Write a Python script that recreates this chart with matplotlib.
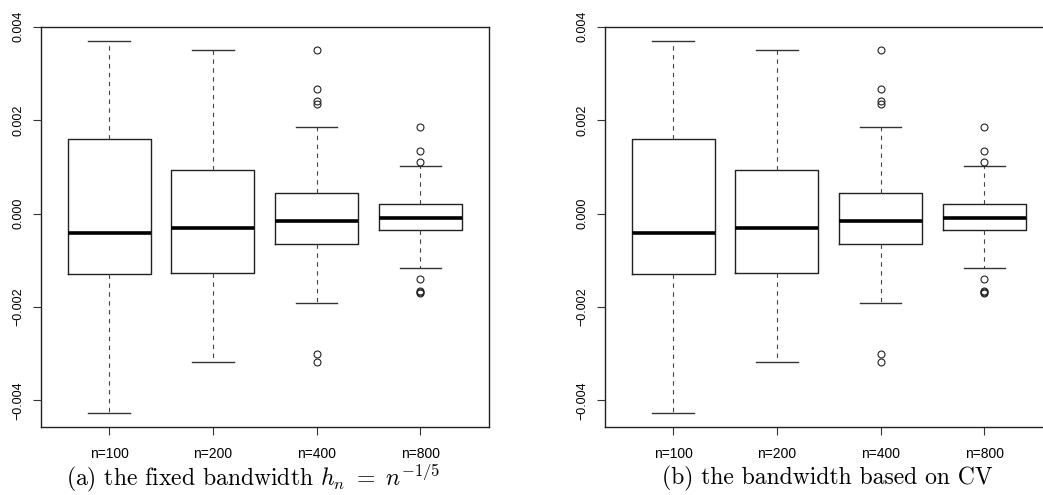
import matplotlib
matplotlib.use("Agg")
import matplotlib.pyplot as plt

# box statistics (same numbers in both panels)
groups = ["n=100", "n=200", "n=400", "n=800"]
whis_lo = [-0.00426, -0.00317, -0.00191, -0.00117]
q1 = [-0.00129, -0.00128, -0.00066, -0.00036]
med = [-0.00042, -0.00031, -0.00016, -0.00010]
q3 = [0.00159, 0.00093, 0.00043, 0.00020]
whis_hi = [0.00369, 0.00351, 0.00186, 0.00102]
fliers = [
    [],
    [],
    [0.00350, 0.00267, 0.00242, 0.00234, -0.00300, -0.00317],
    [0.00186, 0.00134, 0.00111, -0.00139, -0.00165, -0.00168, -0.00171],
]

yticks = [-0.004, -0.002, 0.0, 0.002, 0.004]
yticklabels = ["\u22120.004", "\u22120.002", "0.000", "0.002", "0.004"]

captions = [r"(a) the fixed bandwidth $h_n\ =\ n^{-1/5}$",
            "(b) the bandwidth based on CV"]

plt.rcParams["mathtext.fontset"] = "cm"

stats = []
for i in range(len(groups)):
    stats.append(dict(label=groups[i], whislo=whis_lo[i], q1=q1[i], med=med[i],
                      q3=q3[i], whishi=whis_hi[i], fliers=fliers[i]))

fig = plt.figure(figsize=(10.43, 4.95), dpi=100)
W, H = 1043.0, 495.0
lefts = [40.7, 604.7]
cap_x = [253, 827]

for k in range(2):
    ax = fig.add_axes([lefts[k] / W, (H - 427.3) / H, 448 / W, (427.3 - 26.7) / H])
    ax.bxp(stats, widths=0.8, showfliers=True,
           boxprops=dict(color="#222222", linewidth=1.0),
           medianprops=dict(color="black", linewidth=2.6, solid_capstyle="butt"),
           whiskerprops=dict(color="#444444", linewidth=0.8, linestyle=(0, (4, 4))),
           capprops=dict(color="#333333", linewidth=1.0),
           flierprops=dict(marker="o", markerfacecolor="none", markeredgecolor="#222222",
                           markersize=5, markeredgewidth=0.8))
    ax.set_xlim(0.34, 4.66)
    ax.set_ylim(-0.004574, 0.004)
    ax.set_yticks(yticks)
    ax.set_yticklabels(yticklabels, rotation=90, va="center", family="Liberation Sans", fontsize=9)
    ax.set_xticklabels(groups, family="Liberation Sans", fontsize=10)
    ax.tick_params(axis="both", length=6, width=0.8, color="#333333")
    ax.tick_params(axis="x", pad=8)
    ax.tick_params(axis="y", pad=6)
    for s in ax.spines.values():
        s.set_linewidth(1.0)
        s.set_color("#222222")
    if k == 1:
        ax.spines["right"].set_visible(False)
    fig.text(cap_x[k] / W, (H - 478) / H, captions[k], ha="center", va="center",
             family="cmr10", fontsize=17)

fig.savefig("out.png", dpi=100)
